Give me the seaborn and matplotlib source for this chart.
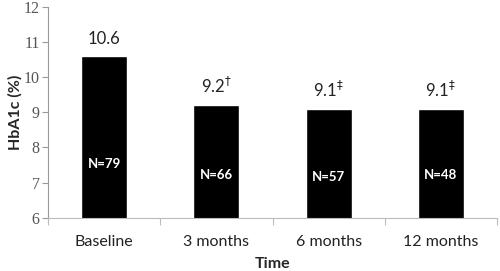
import matplotlib.pyplot as plt
import pandas as pd
import seaborn as sns

categories = ["Baseline", "3 months", "6 months", "12 months"]
hba1c = [10.6, 9.2, 9.1, 9.1]
value_labels = ["10.6", "9.2$^{\u2020}$", "9.1$^{\u2021}$", "9.1$^{\u2021}$"]
n_labels = ["N=79", "N=66", "N=57", "N=48"]
n_label_y = [7.53, 7.22, 7.16, 7.22]
y_ticks = [6, 7, 8, 9, 10, 11, 12]

df = pd.DataFrame({"Time": categories, "HbA1c": hba1c})

sns.set_style("white")
fig = plt.figure(figsize=(5.0, 2.71), dpi=100)
ax = fig.add_axes([0.096, 0.196, 0.898, 0.78])

sns.barplot(data=df, x="Time", y="HbA1c", color="black", width=0.41,
            saturation=1, ax=ax)

ax.set_ylim(6, 12)
ax.set_xlim(-0.5, 3.5)
ax.set_yticks(y_ticks)
ax.set_yticklabels([str(t) for t in y_ticks], family="Liberation Serif",
                   fontsize=11.5, color="#555555")
ax.set_xticks(range(len(categories)))
ax.set_xticklabels(categories, family="Lato", fontsize=11.5, color="#222222")
ax.tick_params(axis="x", length=0, pad=12)
ax.tick_params(axis="y", length=4, width=0.8, color="#999999", pad=2, left=True)

# tick marks between categories on the x axis
ax.set_xticks([-0.5, 0.5, 1.5, 2.5, 3.5], minor=True)
ax.tick_params(axis="x", which="minor", length=5, width=0.8, color="#bbbbbb", bottom=True)

for side in ["top", "right"]:
    ax.spines[side].set_visible(False)
ax.spines["left"].set_color("#999999")
ax.spines["bottom"].set_color("#bbbbbb")

for i, (v, lab) in enumerate(zip(hba1c, value_labels)):
    ax.text(i, v + 0.25, lab, ha="center", va="bottom", family="Lato",
            fontsize=12, color="#222222")

for i, (ny, lab) in enumerate(zip(n_label_y, n_labels)):
    ax.text(i, ny, lab, ha="center", va="center", family="Lato",
            fontsize=9.5, fontweight="bold", color="white")

ax.set_xlabel("Time", family="Lato", fontsize=11.5, fontweight="bold", labelpad=6)
ax.set_ylabel("HbA1c (%)", family="Lato", fontsize=11.5, fontweight="bold", labelpad=1)

fig.savefig("out.png", dpi=100)
